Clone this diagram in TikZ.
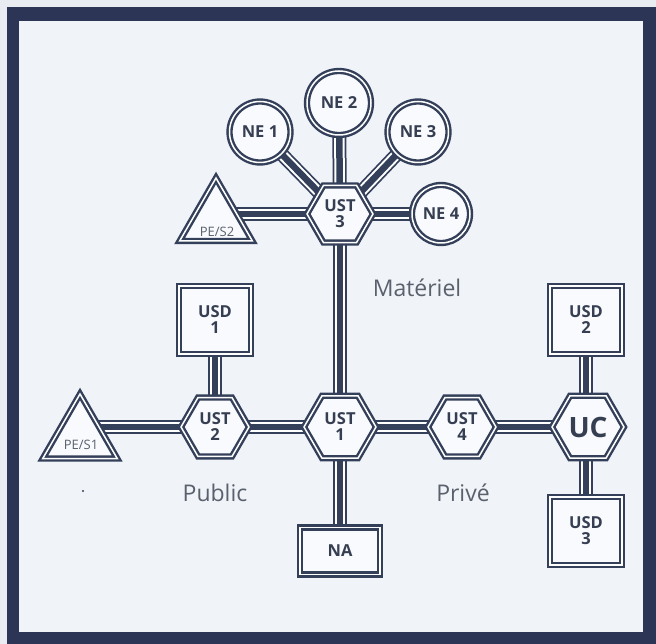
\documentclass[tikz,border=0pt]{standalone}
\usepackage{fontspec}
\setmainfont{Open Sans}
\usetikzlibrary{shapes.geometric}
\definecolor{dk}{HTML}{34405A}
\definecolor{framec}{HTML}{2C3556}
\definecolor{paper}{HTML}{F0F3F8}
\definecolor{outside}{HTML}{E9EDF2}
\definecolor{txt}{HTML}{363E52}
\definecolor{lbl}{HTML}{5A606C}
\definecolor{boxfill}{HTML}{F8FAFD}
\pgfdeclarelayer{back}
\pgfdeclarelayer{links}
\pgfsetlayers{back,links,main}
\begin{document}
\begin{tikzpicture}[x=1pt,y=-1pt,
  box/.style={draw=dk, line width=2.4pt, double=white, double distance=1.5pt,
    fill=boxfill, text=txt, font=\bfseries\fontsize{16.5}{16}\selectfont,
    align=center, inner sep=0pt},
  hexa/.style={box, regular polygon, regular polygon sides=6, minimum size=#1},
  disc/.style={box, circle, minimum size=#1},
  sq/.style={box, rectangle, minimum width=72pt, minimum height=68pt},
  tri/.style={box, regular polygon, regular polygon sides=3, minimum size=#1},
  tritext/.style={text=lbl, font=\fontsize{13}{13}\selectfont, inner sep=0pt},
  lab/.style={text=lbl, font=\fontsize{23}{23}\selectfont, inner sep=0pt}
]
\useasboundingbox (0,0) rectangle (656,644);
\begin{pgfonlayer}{back}
  \fill[outside] (0,0) rectangle (656,644);
  \fill[framec] (7,7) rectangle (656,644);
  \fill[paper] (19,21) rectangle (643,632);
  \fill[dk] (83,491) circle (1.2);
\end{pgfonlayer}

% hubs
\node[hexa=66pt] (ust3) at (340,214) {UST\\3};
\node[hexa=72pt] (ust1) at (340,427) {UST\\1};
\node[hexa=68pt] (ust2) at (215,427) {UST\\2};
\node[hexa=68pt] (ust4) at (462,427) {UST\\4};
\node[hexa=72pt, font=\bfseries\fontsize{28}{28}\selectfont] (uc) at (588,427) {UC};
% circles
\node[disc=61pt] (ne1) at (260,132) {NE 1};
\node[disc=64pt] (ne2) at (339,103) {NE 2};
\node[disc=61pt] (ne3) at (418,132) {NE 3};
\node[disc=58pt] (ne4) at (441,214) {NE 4};
% squares
\node[sq] (usd1) at (215,320) {USD\\1};
\node[sq] (usd2) at (586,320) {USD\\2};
\node[sq] (usd3) at (586,531) {USD\\3};
\node[box, rectangle, minimum width=80pt, minimum height=47pt] (na) at (340,551) {NA};
% triangles
\node[tri=84pt, label={[tritext, name=pes2t, yshift=-12pt, xshift=1pt]center:PE/S2}] (pes2) at (216,220) {};
\node[tri=86pt, label={[tritext, name=pes1t, yshift=-8pt, xshift=1pt]center:PE/S1}] (pes1) at (80,437) {};
\coordinate (pes2e) at (pes2.center |- ust3.center);
\coordinate (pes1e) at (pes1.center |- ust2.center);
\coordinate (usd2e) at (usd2.center |- uc.center);
\coordinate (usd3e) at (usd3.center |- uc.center);
% labels
\node[lab] (mat) at (417,288) {Matériel};
\node[lab] (pub) at (215,493) {Public};
\node[lab] (priv) at (463,493) {Privé};

\begin{pgfonlayer}{links}
\foreach \w/\c in {14/dk, 10.5/white, 6.5/dk}{
  \foreach \a/\b in {ust3/ne1, ust3/ne2, ust3/ne3, ust3/ne4, ust3/pes2e,
      ust3/ust1, ust1/ust2, ust2/pes1e, ust2/usd1, ust1/na, ust1/ust4,
      ust4/uc, usd2e/usd2, usd3e/usd3}{
    \draw[line width=\w pt, draw=\c] (\a.center) -- (\b.center);
  }
}
\end{pgfonlayer}
\end{tikzpicture}
\end{document}
